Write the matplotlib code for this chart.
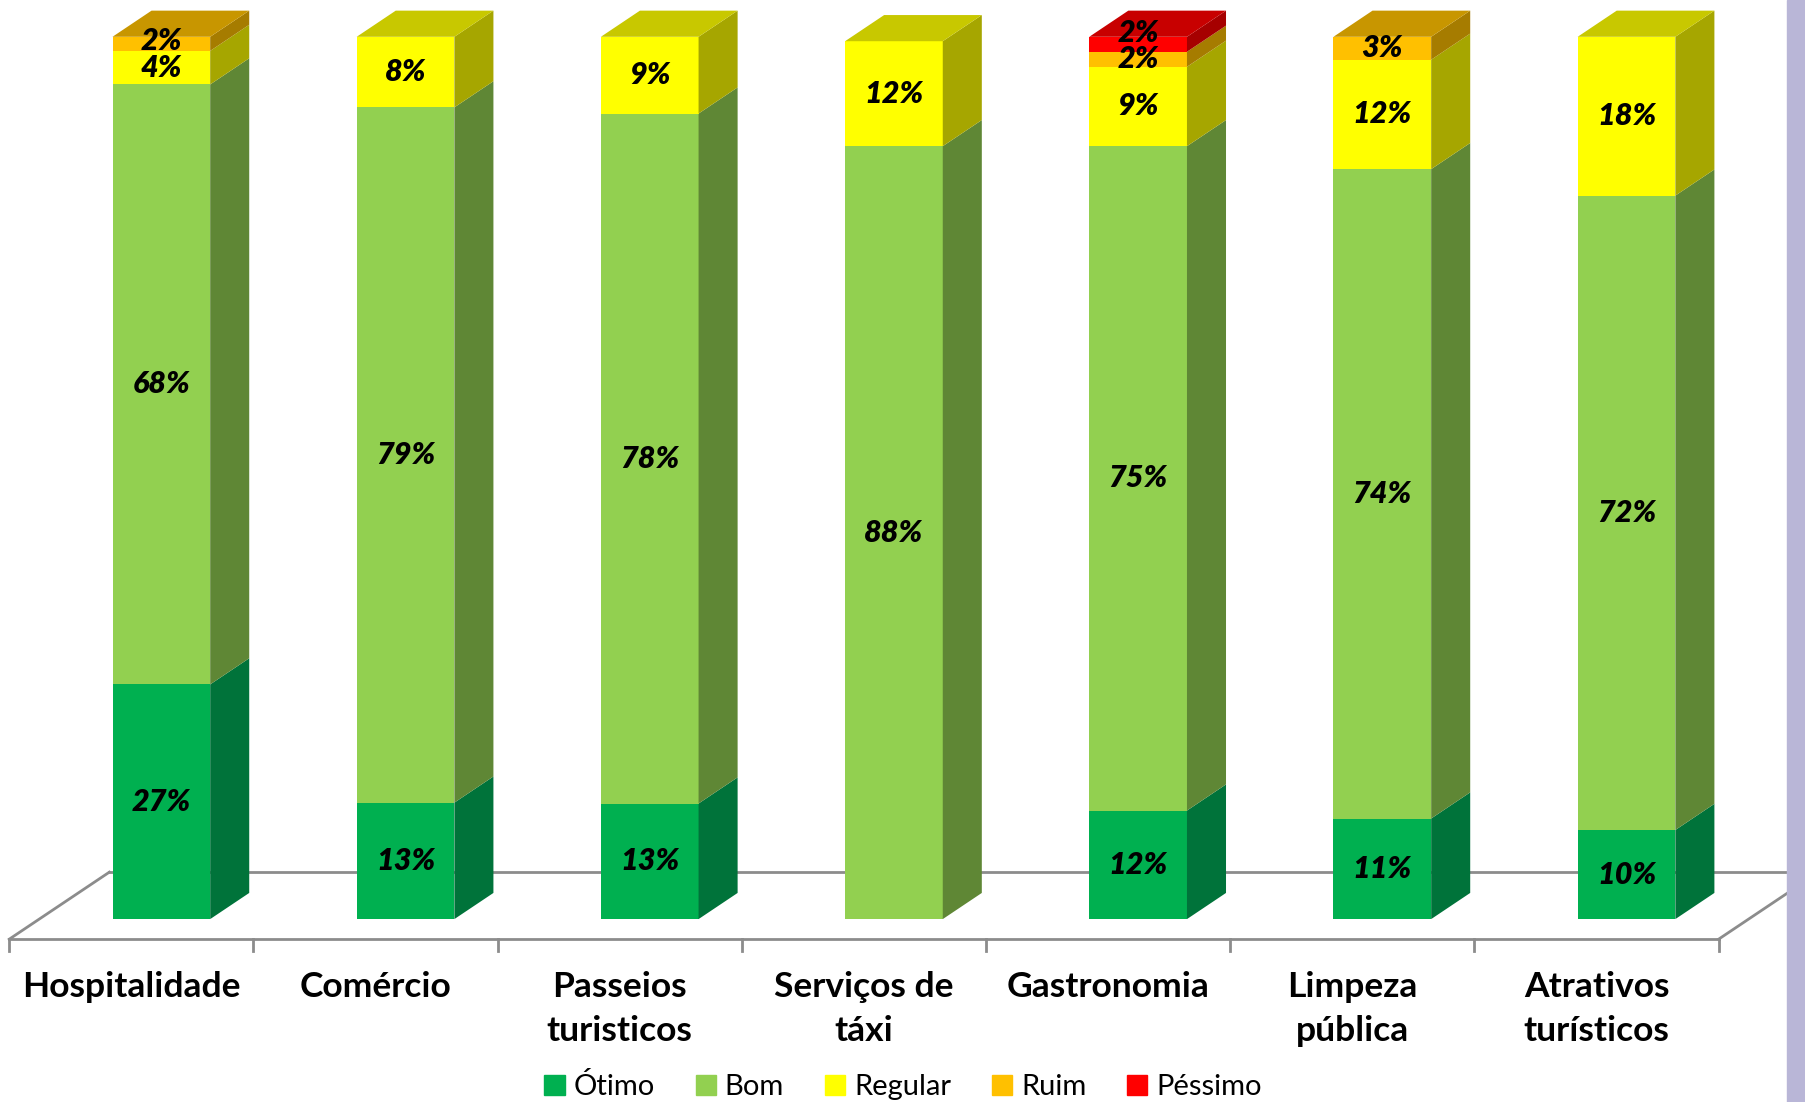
import numpy as np
import matplotlib.pyplot as plt
from matplotlib.patches import Polygon, Patch, Rectangle

plt.rcParams['font.family'] = ['Lato', 'DejaVu Sans']

categorias = ['Hospitalidade', 'Comércio', 'Passeios\nturisticos', 'Serviços de\ntáxi',
              'Gastronomia', 'Limpeza\npública', 'Atrativos\nturísticos']
series = ['Ótimo', 'Bom', 'Regular', 'Ruim', 'Péssimo']

# shares (%)
otimo = [26.6, 13.2, 13.1, 0.0, 12.3, 11.4, 10.1]
bom = [68.0, 78.8, 78.2, 87.6, 75.3, 73.6, 71.9]
regular = [3.8, 8.0, 8.7, 11.9, 9.0, 12.4, 18.0]
ruim = [1.6, 0.0, 0.0, 0.0, 1.7, 2.6, 0.0]
pessimo = [0.0, 0.0, 0.0, 0.0, 1.7, 0.0, 0.0]

valores = [otimo, bom, regular, ruim, pessimo]

cor_frente = ['#00B050', '#92D050', '#FFFF00', '#FFC000', '#FF0000']
cor_lado = ['#00733A', '#5F8735', '#A6A600', '#A67C00', '#A60000']
cor_topo = ['#00904A', '#78A842', '#C8C800', '#C89600', '#C80000']

# oblique "3D" geometry (category units, percent units)
DX, DY = 0.41, 7.6          # floor depth vector
t0, t1 = 0.30, 0.69         # bar front / back inside floor depth
W = 0.40
ddx, ddy = (t1 - t0) * DX, (t1 - t0) * DY
y_floor = -t0 * DY

fig = plt.figure(figsize=(18.06, 11.02), dpi=100)
fig.patches.append(Rectangle((1787 / 1806, 0), 1, 1, transform=fig.transFigure,
                             color='#B9B6D7', zorder=0))
ax = fig.add_axes([0, 0, 1, 1])
ax.set_facecolor('none')
ax.set_xlim(-0.5377, 6.858)
ax.set_ylim(-20.73, 104.17)
ax.axis('off')

n = len(categorias)
x = np.arange(n)

# floor
gray = '#8C8C8C'
ax.plot([-0.5, n - 0.5], [y_floor, y_floor], color=gray, lw=2, zorder=1)
ax.plot([-0.5 + DX, n - 0.5 + DX], [y_floor + DY, y_floor + DY], color=gray, lw=2, zorder=1)
ax.plot([-0.5, -0.5 + DX], [y_floor, y_floor + DY], color=gray, lw=2, zorder=1)
ax.plot([n - 0.5, n - 0.5 + DX], [y_floor, y_floor + DY], color=gray, lw=2, zorder=1)
for b in np.arange(n + 1) - 0.5:
    ax.plot([b, b], [y_floor, y_floor - 1.3], color=gray, lw=2, zorder=1)

xc = x + t0 * DX
base = np.zeros(n)
topo_info = [None] * n
label_y = [[] for _ in range(n)]
for k, vals in enumerate(valores):
    vals = np.array(vals)
    ax.bar(xc, vals, W, bottom=base, color=cor_frente[k], zorder=3, linewidth=0)
    for i in range(n):
        if vals[i] <= 0:
            continue
        xr = xc[i] + W / 2
        b, t = base[i], base[i] + vals[i]
        ax.add_patch(Polygon([(xr, b), (xr + ddx, b + ddy), (xr + ddx, t + ddy), (xr, t)],
                             closed=True, color=cor_lado[k], lw=0, zorder=3))
        topo_info[i] = (k, t)
        yl = (b + t) / 2
        if label_y[i] and yl - label_y[i][-1] < 3.0:
            yl = label_y[i][-1] + 3.0
        label_y[i].append(yl)
        ax.text(xc[i], yl, f'{vals[i]:.0f}%', ha='center', va='center',
                fontsize=22, fontweight='heavy', fontstyle='italic', zorder=5)
    base = base + vals

for i in range(n):
    k, t = topo_info[i]
    xl, xr = xc[i] - W / 2, xc[i] + W / 2
    ax.add_patch(Polygon([(xl, t), (xl + ddx, t + ddy), (xr + ddx, t + ddy), (xr, t)],
                         closed=True, color=cor_topo[k], lw=0, zorder=3))

for i, c in enumerate(categorias):
    ax.text(x[i], -5.9, c, ha='center', va='top', fontsize=25.5, fontweight='bold',
            linespacing=1.45)

handles = [Patch(color=c) for c in cor_frente]
fig.legend(handles, series, loc='lower center', bbox_to_anchor=(0.5, -0.022), ncol=5,
           frameon=False, fontsize=21, handlelength=0.7, handleheight=0.7,
           handletextpad=0.3, columnspacing=1.4)

fig.savefig('out.png', dpi=100)
